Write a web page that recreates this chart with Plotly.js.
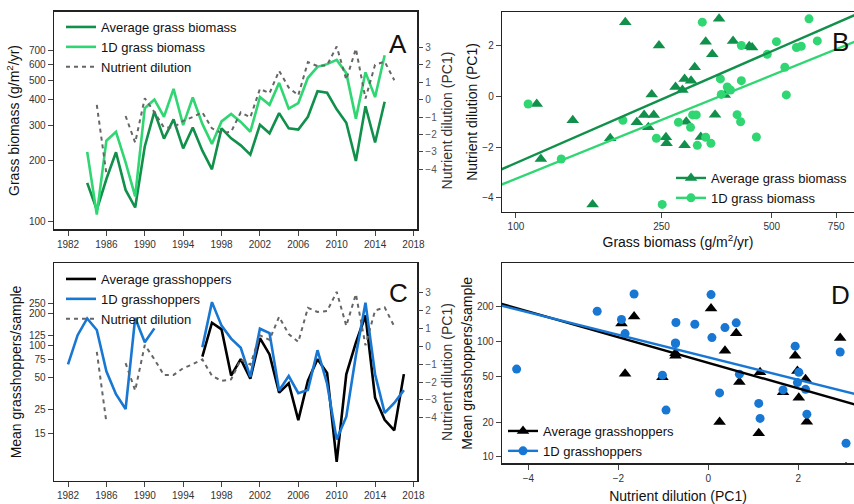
<!DOCTYPE html>
<html><head><meta charset="utf-8">
<script src="https://cdn.plot.ly/plotly-3.0.1.min.js"></script>
<style>html,body{margin:0;padding:0;background:#fff}#chart{width:854px;height:504px}</style>
</head><body><div id="chart"></div>
<script>
// ---------- data ----------
const grassYears = [1984,1985,1986,1987,1988,1989,1990,1991,1992,1993,1994,1995,1996,1997,1998,1999,2000,2001,2002,2003,2004,2005,2006,2007,2008,2009,2010,2011,2012,2013,2014,2015];
const avgGrass  = [155,114,162,220,143,117,235,350,257,320,230,292,224,181,289,258,238,214,301,273,344,289,285,330,442,434,359,308,199,372,246,392];
const oneDGrass = [221,108,251,278,196,133,364,402,330,454,300,411,304,242,313,341,311,278,413,378,486,362,386,515,584,602,632,543,323,548,413,666];

const ndYears = [1985,1986,1987,1988,1989,1990,1991,1992,1993,1994,1995,1996,1997,1998,1999,2000,2001,2002,2003,2004,2005,2006,2007,2008,2009,2010,2011,2012,2013,2014,2015,2016];
const nutrientDilution = [-0.30,-4.26,null,-0.94,-2.47,0.08,-0.72,-1.61,-1.60,-1.22,-1.00,-0.73,-1.65,-1.93,-1.85,-0.73,-1.02,0.62,0.37,1.66,0.69,0.25,2.16,1.93,1.98,3.06,1.15,2.93,0.06,2.01,2.19,1.12];

const ghYears = [1982,1983,1984,1985,1986,1987,1988,1989,1990,1991,1992,1993,1994,1995,1996,1997,1998,1999,2000,2001,2002,2003,2004,2005,2006,2007,2008,2009,2010,2011,2012,2013,2014,2015,2016,2017];
const gh1D  = [66.8,126,181,141,57.6,35.1,25.4,183,108,146,null,null,null,null,97,258,155,117,96,51,145,132,38,52,35.8,38.4,91,44,13.1,21.5,81,255,54,23.4,29,38.3];
const ghAvg = [null,null,null,null,null,null,null,null,null,null,null,null,null,null,79,165,143,52.5,75,49,118,83,36.3,44.5,20,47,75,55.5,8.1,54,107,193,32.5,20.1,16,54.2];

// fitted lines: [intercept, slope]
const fitBAvg = [-15.25, 6.31];   // ND = a + b*log10(biomass)
const fitB1D  = [-14.93, 5.84];
const fitDAvg = [1.815, -0.1113]; // log10(hoppers) = a + b*ND
const fitD1D  = [1.863, -0.0976];

const yearTicks = [1982,1986,1990,1994,1998,2002,2006,2010,2014,2018];
const grassTicks = [100,200,300,400,500,600,700];
const ndTicks = [-4,-3,-2,-1,0,1,2,3];
const bXTicks = [100,250,500,750];
const bYTicks = [-4,-2,0,2];
const cTicks = [15,25,50,75,100,125,200,250];
const dXTicks = [-4,-2,0,2];
const dYTicks = [10,20,50,100,200];

// ---------- styling ----------
const DARKG = '#10904a', LIGHTG = '#2fd672', BLUE = '#1877d2', BLACK = '#000000', GREY = '#666666';
const FONT = '"Liberation Sans", Arial, Helvetica, sans-serif';

function pair(xYears, xVals, yYears, yVals) {
  const xs = [], ys = [];
  xYears.forEach((yr, i) => {
    const j = yYears.indexOf(yr);
    if (j < 0) return;
    if (xVals[i] == null || yVals[j] == null) return;
    xs.push(xVals[i]); ys.push(yVals[j]);
  });
  return {x: xs, y: ys};
}

const rangeAx = [1980.54, 2018.4];
const rangeAy = [Math.log10(91.2), Math.log10(1096)];
const rangeAy2 = [-7.46, 5.06];
const rangeBx = [1.962, 2.9237];
const rangeBy = [-4.56, 3.33];
const rangeCy = [0.7306, 2.777];
const rangeCy2 = [-7.53, 4.66];
const rangeDx = [-4.585, 3.237];
const rangeDy = [0.943, 2.678];

const bTri = pair(grassYears, avgGrass, ndYears, nutrientDilution);
const bCir = pair(grassYears, oneDGrass, ndYears, nutrientDilution);
const dTri = pair(ndYears, nutrientDilution, ghYears, ghAvg);
const dCir = pair(ndYears, nutrientDilution, ghYears, gh1D);

const bLineX = [Math.pow(10, rangeBx[0] - 0.3), Math.pow(10, rangeBx[1] + 0.3)];
const dLineX = [rangeDx[0] - 1, rangeDx[1] + 1];

const traces = [
  // Panel A
  {x: grassYears, y: avgGrass, xaxis: 'x', yaxis: 'y', mode: 'lines', name: 'Average grass biomass',
   line: {color: DARKG, width: 2.6}, legend: 'legend'},
  {x: grassYears, y: oneDGrass, xaxis: 'x', yaxis: 'y', mode: 'lines', name: '1D grass biomass',
   line: {color: LIGHTG, width: 2.6}, legend: 'legend'},
  {x: ndYears, y: nutrientDilution, xaxis: 'x', yaxis: 'y2', mode: 'lines', name: 'Nutrient dilution',
   line: {color: GREY, width: 2, dash: '4px,4px'}, connectgaps: false, legend: 'legend'},
  // Panel B
  {x: bTri.x, y: bTri.y, xaxis: 'x2', yaxis: 'y3', mode: 'markers', showlegend: false,
   marker: {symbol: 'triangle-up', size: 11, color: DARKG}},
  {x: bCir.x, y: bCir.y, xaxis: 'x2', yaxis: 'y3', mode: 'markers', showlegend: false,
   marker: {symbol: 'circle', size: 9, color: LIGHTG}},
  {x: bLineX, y: bLineX.map(v => fitBAvg[0] + fitBAvg[1] * Math.log10(v)), xaxis: 'x2', yaxis: 'y3',
   mode: 'lines+markers', name: 'Average grass biomass', line: {color: DARKG, width: 2.4},
   marker: {symbol: 'triangle-up', size: 11, color: DARKG}, legend: 'legend3'},
  {x: bLineX, y: bLineX.map(v => fitB1D[0] + fitB1D[1] * Math.log10(v)), xaxis: 'x2', yaxis: 'y3',
   mode: 'lines+markers', name: '1D grass biomass', line: {color: LIGHTG, width: 2.4},
   marker: {symbol: 'circle', size: 9, color: LIGHTG}, legend: 'legend3'},
  // Panel C
  {x: ghYears, y: ghAvg, xaxis: 'x3', yaxis: 'y4', mode: 'lines', name: 'Average grasshoppers',
   line: {color: BLACK, width: 2.6}, connectgaps: false, legend: 'legend2'},
  {x: ghYears, y: gh1D, xaxis: 'x3', yaxis: 'y4', mode: 'lines', name: '1D grasshoppers',
   line: {color: BLUE, width: 2.6}, connectgaps: false, legend: 'legend2'},
  {x: ndYears, y: nutrientDilution, xaxis: 'x3', yaxis: 'y5', mode: 'lines', name: 'Nutrient dilution',
   line: {color: GREY, width: 2, dash: '4px,4px'}, connectgaps: false, legend: 'legend2'},
  // Panel D
  {x: dTri.x, y: dTri.y, xaxis: 'x4', yaxis: 'y6', mode: 'markers', showlegend: false,
   marker: {symbol: 'triangle-up', size: 11, color: BLACK}},
  {x: dCir.x, y: dCir.y, xaxis: 'x4', yaxis: 'y6', mode: 'markers', showlegend: false,
   marker: {symbol: 'circle', size: 9, color: BLUE}},
  {x: dLineX, y: dLineX.map(v => Math.pow(10, fitDAvg[0] + fitDAvg[1] * v)), xaxis: 'x4', yaxis: 'y6',
   mode: 'lines+markers', name: 'Average grasshoppers', line: {color: BLACK, width: 2.4},
   marker: {symbol: 'triangle-up', size: 11, color: BLACK}, legend: 'legend4'},
  {x: dLineX, y: dLineX.map(v => Math.pow(10, fitD1D[0] + fitD1D[1] * v)), xaxis: 'x4', yaxis: 'y6',
   mode: 'lines+markers', name: '1D grasshoppers', line: {color: BLUE, width: 2.4},
   marker: {symbol: 'circle', size: 9, color: BLUE}, legend: 'legend4'}
];

const W = 854, H = 504;
const px = v => v / W, py = v => 1 - v / H;
const tickFont = {family: FONT, size: 10, color: '#333'};
const titleFont = {family: FONT, size: 14, color: '#111'};
const base = {showgrid: false, zeroline: false, showline: true, linecolor: '#222', linewidth: 1.3,
  ticks: 'outside', ticklen: 5, tickcolor: '#444', tickwidth: 1, tickfont: tickFont};

const legendBase = {bgcolor: 'rgba(0,0,0,0)', borderwidth: 0, font: {family: FONT, size: 13, color: '#111'},
  xanchor: 'left', yanchor: 'top', tracegroupgap: 0};

function letter(t, x, y) {
  return {text: t, x: px(x), y: py(y), xref: 'paper', yref: 'paper', xanchor: 'center', yanchor: 'middle',
    showarrow: false, font: {family: FONT, size: 26, color: '#111'}};
}

const layout = {
  width: W, height: H, margin: {l: 0, r: 0, t: 0, b: 0}, paper_bgcolor: '#fff', plot_bgcolor: '#fff',
  font: {family: FONT},
  // Panel A
  xaxis: Object.assign({}, base, {domain: [px(54), px(417.3)], range: rangeAx, tickvals: yearTicks,
    mirror: true, anchor: 'y'}),
  yaxis: Object.assign({}, base, {domain: [py(229.3), py(11.7)], type: 'log', range: rangeAy,
    tickvals: grassTicks, mirror: true, anchor: 'x',
    title: {text: 'Grass biomass (g/m<sup>2</sup>/yr)', font: titleFont, standoff: 6}}),
  yaxis2: Object.assign({}, base, {overlaying: 'y', side: 'right', anchor: 'x', range: rangeAy2,
    tickvals: ndTicks, showline: false, tickfont: {family: FONT, size: 10, color: '#555'},
    title: {text: 'Nutrient dilution (PC1)', font: {family: FONT, size: 14, color: '#333'}, standoff: 6}}),
  // Panel B
  xaxis2: Object.assign({}, base, {domain: [px(502), 1], type: 'log', range: rangeBx, tickvals: bXTicks,
    mirror: true, anchor: 'y3',
    title: {text: 'Grass biomass (g/m<sup>2</sup>/yr)', font: titleFont, standoff: 3}}),
  yaxis3: Object.assign({}, base, {domain: [py(212), py(12)], range: rangeBy, tickvals: bYTicks,
    anchor: 'x2', mirror: false,
    title: {text: 'Nutrient dilution (PC1)', font: titleFont, standoff: 1}}),
  // Panel C
  xaxis3: Object.assign({}, base, {domain: [px(54), px(417.3)], range: rangeAx, tickvals: yearTicks,
    mirror: true, anchor: 'y4'}),
  yaxis4: Object.assign({}, base, {domain: [py(480.7), py(263.3)], type: 'log', range: rangeCy,
    tickvals: cTicks, mirror: true, anchor: 'x3',
    title: {text: 'Mean grasshoppers/sample', font: titleFont, standoff: 4}}),
  yaxis5: Object.assign({}, base, {overlaying: 'y4', side: 'right', anchor: 'x3', range: rangeCy2,
    tickvals: ndTicks, showline: false, tickfont: {family: FONT, size: 10, color: '#555'},
    title: {text: 'Nutrient dilution (PC1)', font: {family: FONT, size: 14, color: '#333'}, standoff: 6}}),
  // Panel D
  xaxis4: Object.assign({}, base, {domain: [px(502), 1], range: rangeDx, tickvals: dXTicks,
    mirror: true, anchor: 'y6',
    title: {text: 'Nutrient dilution (PC1)', font: titleFont, standoff: 8}}),
  yaxis6: Object.assign({}, base, {domain: [py(463.3), py(263.3)], type: 'log', range: rangeDy,
    tickvals: dYTicks, anchor: 'x4', mirror: false,
    title: {text: 'Mean grasshoppers/sample', font: titleFont, standoff: 1}}),
  legend: Object.assign({}, legendBase, {x: px(61), y: py(12)}),
  legend2: Object.assign({}, legendBase, {x: px(61), y: py(264)}),
  legend3: Object.assign({}, legendBase, {x: px(671), y: py(163)}),
  legend4: Object.assign({}, legendBase, {x: px(503), y: py(416)}),
  annotations: [letter('A', 398, 44), letter('B', 840, 42), letter('C', 398, 293), letter('D', 840, 295)],
  showlegend: true
};

Plotly.newPlot('chart', traces, layout, {displayModeBar: false, staticPlot: true});
</script></body></html>
